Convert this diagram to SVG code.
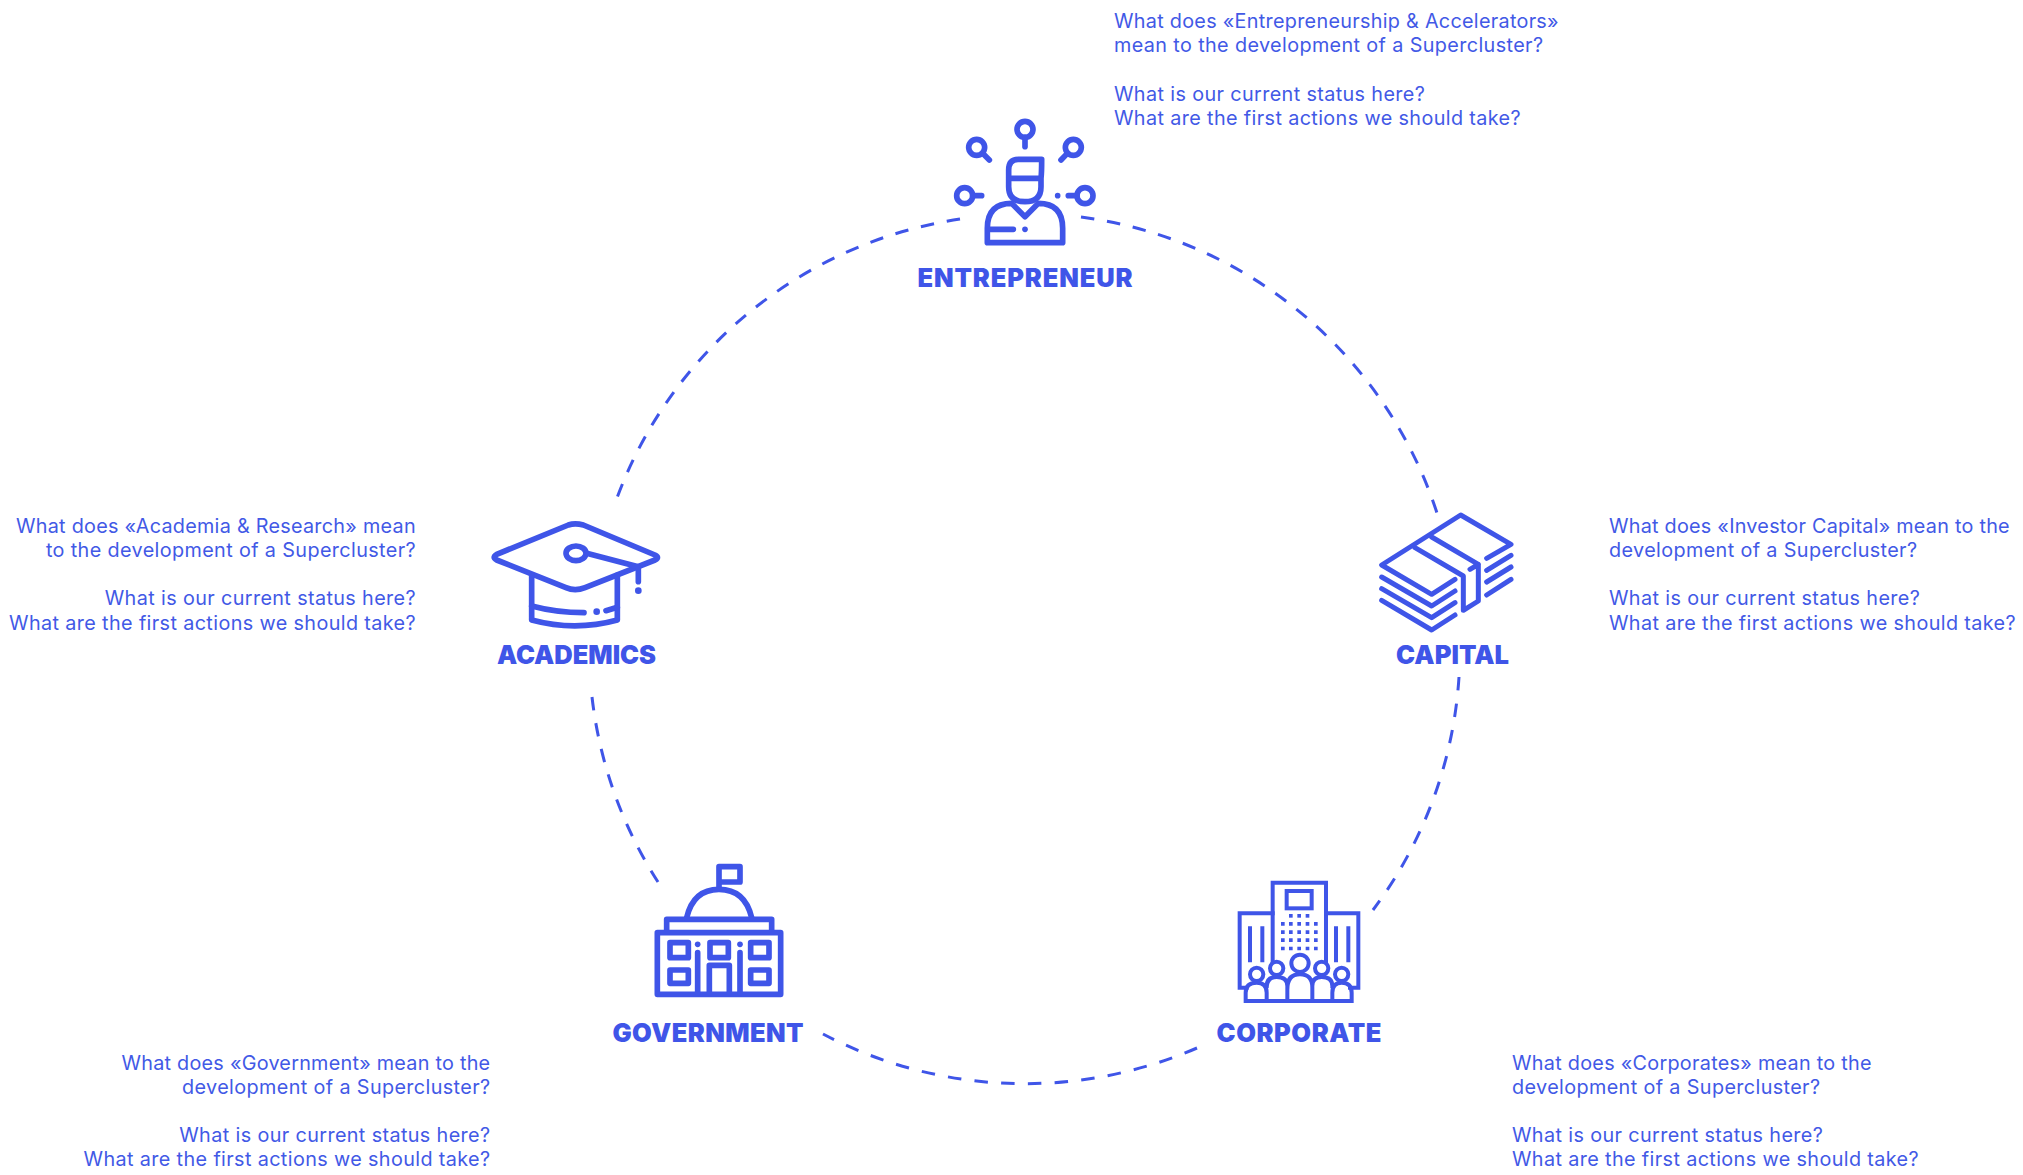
<svg xmlns="http://www.w3.org/2000/svg" width="2023" height="1175" viewBox="0 0 2023 1175">
<style>
.bg{fill:#fff}
.t{font-family:"Inter","Liberation Sans",sans-serif;font-size:19.8px;letter-spacing:.38px;fill:#4259e6;font-weight:400}
.e{text-anchor:end}
.l{font-family:"Inter","Liberation Sans",sans-serif;font-size:25.5px;font-weight:900;fill:#3f55e8;text-anchor:middle}
.i{fill:none;stroke:#3f55e8;stroke-width:17;stroke-linecap:round;stroke-linejoin:round}
.d{fill:#3f55e8;stroke:none}
.c{fill:none;stroke:#3f55e8;stroke-width:3}
</style>
<rect class="bg" width="2023" height="1175"/>
<g id="connectors">
<path class="c" stroke-dasharray="13.5 12.9" d="M960,219A434,434 0 0 0 617,498"/>
<path class="c" stroke-dasharray="13.5 12.84" d="M1081,217A434,434 0 0 1 1437,513"/>
<path class="c" stroke-dasharray="13.5 13.2" d="M1459,677A434,434 0 0 1 1373,910"/>
<path class="c" stroke-dasharray="13.5 13.25" d="M1197,1048A434,434 0 0 1 823,1034"/>
<path class="c" stroke-dasharray="13.5 12.9" d="M592,697A434,434 0 0 0 658,882"/>
</g>
<g id="entrepreneur">
<g transform="translate(930,100) scale(.33333)">
<g class="i">
<circle cx="285" cy="88" r="24"/><path d="M285,112V140"/>
<circle cx="140" cy="142" r="24"/><path d="M158,160L178,180"/>
<circle cx="430" cy="142" r="24"/><path d="M412,160L393,180"/>
<circle cx="104" cy="287" r="24"/><path d="M128,287H155"/>
<circle cx="465" cy="287" r="24"/><path d="M441,287H415"/>
<path d="M335,178H265Q236,178 236,210V260Q236,305 285,305Q333,305 333,260V235Q335,220 335,178ZM238,235H333"/>
<path d="M172,428V385Q172,310 245,310L285,350L325,310Q398,310 398,385V428ZM175,388H250"/>
</g>
<circle class="d" cx="383" cy="287" r="8.5"/><circle class="d" cx="285" cy="388" r="8.5"/>
</g>
<text class="l" x="1025" y="287" textLength="215" lengthAdjust="spacing">ENTREPRENEUR</text>
<text class="t" x="1114" y="27.5" textLength="445" lengthAdjust="spacing">What does «Entrepreneurship &amp; Accelerators»</text>
<text class="t" x="1114" y="52">mean to the development of a Supercluster?</text>
<text class="t" x="1114" y="100.5">What is our current status here?</text>
<text class="t" x="1114" y="124.5">What are the first actions we should take?</text>
</g>
<g id="academics">
<g transform="translate(480,500) scale(.33333)">
<g class="i">
<path d="M265,75Q285,68 310,75L525,165Q540,172 525,180L315,263Q285,275 258,263L50,180Q35,172 50,163Z"/>
<ellipse cx="288" cy="160" rx="30" ry="22"/>
<path d="M320,160L475,200V245"/>
<path d="M155,225V360Q285,395 412,360V225"/>
<path d="M155,318Q230,338 312,338M378,332L412,322"/>
</g>
<circle class="d" cx="475" cy="272" r="10"/><circle class="d" cx="350" cy="335" r="10"/>
</g>
<text class="l" x="576.5" y="663.5" textLength="159" lengthAdjust="spacing">ACADEMICS</text>
<text class="t e" x="416" y="532.5" textLength="400" lengthAdjust="spacing">What does «Academia &amp; Research» mean</text>
<text class="t e" x="416" y="556.5">to the development of a Supercluster?</text>
<text class="t e" x="416" y="605">What is our current status here?</text>
<text class="t e" x="416" y="629.5">What are the first actions we should take?</text>
</g>
<g id="capital">
<g transform="translate(1370,501) scale(.33333)">
<g class="i" style="stroke-width:15">
<path d="M350,172L423,130L272,42L35,192L185,280L255,235"/>
<path d="M135,140L280,225V328L325,300V190L185,108M300,205L325,190"/>
<path d="M35,228L185,315L255,270M35,263L185,350L255,305M35,298L185,387L255,342"/>
<path d="M350,208L423,163M350,243L423,198M350,282L423,235"/>
</g>
</g>
<text class="l" x="1452.5" y="663.5" textLength="113" lengthAdjust="spacing">CAPITAL</text>
<text class="t" x="1609" y="532.5" textLength="401" lengthAdjust="spacing">What does «Investor Capital» mean to the</text>
<text class="t" x="1609" y="556.5">development of a Supercluster?</text>
<text class="t" x="1609" y="605">What is our current status here?</text>
<text class="t" x="1609" y="629.5">What are the first actions we should take?</text>
</g>
<g id="government">
<g transform="translate(640,856) scale(.33333)">
<g class="i">
<path d="M237,95V32H300V78H237"/>
<path d="M140,185Q160,100 237,100Q315,100 335,185"/>
<path d="M80,225V190H395V225"/>
<rect x="52" y="230" width="370" height="185"/>
<rect x="90" y="260" width="55" height="45"/><rect x="210" y="260" width="55" height="45"/><rect x="332" y="260" width="55" height="45"/>
<rect x="90" y="342" width="55" height="40"/><rect x="332" y="342" width="55" height="40"/>
<path d="M173,410V290M300,410V290M208,410V328H268V410"/>
</g>
<circle class="d" cx="173" cy="265" r="8.5"/><circle class="d" cx="300" cy="265" r="8.5"/>
</g>
<text class="l" x="708" y="1042" textLength="191" lengthAdjust="spacing">GOVERNMENT</text>
<text class="t e" x="490.5" y="1069.5" textLength="369" lengthAdjust="spacing">What does «Government» mean to the</text>
<text class="t e" x="490.5" y="1093.5">development of a Supercluster?</text>
<text class="t e" x="490.5" y="1141.5">What is our current status here?</text>
<text class="t e" x="490.5" y="1165.5">What are the first actions we should take?</text>
</g>
<g id="corporate">
<g transform="translate(1225,871) scale(.33333)">
<g class="i" style="stroke-width:12;stroke-linecap:square;stroke-linejoin:miter">
<path d="M143,270V35H303V270"/>
<rect x="185" y="60" width="75" height="52"/>
<path d="M143,127H44V350H65M303,127H400V350H375"/>
<path d="M75,172V268M112,172V268M333,172V268M370,172V268"/>
<circle cx="95" cy="310" r="20"/><circle cx="155" cy="292" r="20"/><circle cx="225" cy="277" r="26"/><circle cx="290" cy="292" r="20"/><circle cx="350" cy="310" r="20"/>
<path d="M62,390H380V365Q380,335 350,335Q322,335 322,365V390M62,390V365Q62,335 95,335Q125,335 125,365V390M125,345Q125,318 155,318Q187,318 187,345V390M187,350Q187,310 225,310Q262,310 262,350V390M262,345Q262,318 290,318Q322,318 322,345"/>
</g>
<g class="d">
<rect x="192" y="129" width="11" height="11"/><rect x="217" y="129" width="11" height="11"/><rect x="242" y="129" width="11" height="11"/>
<path d="M168,153h11v11h-11zM192,153h11v11h-11zM217,153h11v11h-11zM242,153h11v11h-11zM267,153h11v11h-11zM168,178h11v11h-11zM192,178h11v11h-11zM217,178h11v11h-11zM242,178h11v11h-11zM267,178h11v11h-11zM168,202h11v11h-11zM192,202h11v11h-11zM217,202h11v11h-11zM242,202h11v11h-11zM267,202h11v11h-11zM168,227h11v11h-11zM192,227h11v11h-11zM217,227h11v11h-11zM242,227h11v11h-11zM267,227h11v11h-11z"/>
</g>
</g>
<text class="l" x="1299" y="1041.5" textLength="165" lengthAdjust="spacing">CORPORATE</text>
<text class="t" x="1512" y="1069.5" textLength="360" lengthAdjust="spacing">What does «Corporates» mean to the</text>
<text class="t" x="1512" y="1093.5">development of a Supercluster?</text>
<text class="t" x="1512" y="1141.5">What is our current status here?</text>
<text class="t" x="1512" y="1165.5">What are the first actions we should take?</text>
</g>
</svg>
